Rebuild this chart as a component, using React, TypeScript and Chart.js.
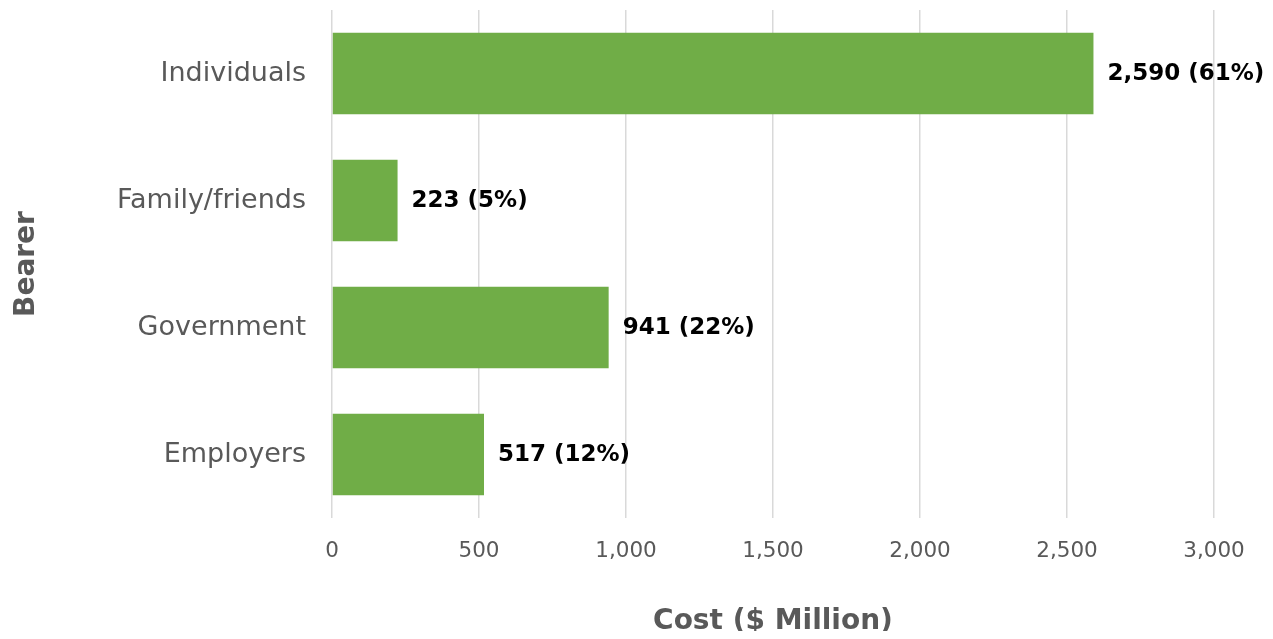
import React, { useEffect, useRef } from "react";
import { Chart, registerables } from "chart.js";

Chart.register(...registerables);

const categories = ["Individuals", "Family/friends", "Government", "Employers"];
const costs = [2590, 223, 941, 517];
const shares = ["61%", "5%", "22%", "12%"];
const xTicks = [0, 500, 1000, 1500, 2000, 2500, 3000];

const FONT = "'DejaVu Sans', Verdana, sans-serif";
const GRAY = "#595959";

const labelPlugin = {
  id: "barLabels",
  afterDatasetsDraw(chart: any) {
    const ctx = chart.ctx;
    const meta = chart.getDatasetMeta(0);
    ctx.save();
    ctx.font = `bold 23px ${FONT}`;
    ctx.fillStyle = "#000000";
    ctx.textAlign = "left";
    ctx.textBaseline = "middle";
    meta.data.forEach((el: any, i: number) => {
      const txt = `${costs[i].toLocaleString("en-US")} (${shares[i]})`;
      ctx.fillText(txt, el.x + 14, el.y + 1);
    });
    ctx.restore();
  },
};

export default function App() {
  const ref = useRef<HTMLCanvasElement | null>(null);
  useEffect(() => {
    if (!ref.current) return;
    const chart = new Chart(ref.current, {
      type: "bar",
      data: {
        labels: categories,
        datasets: [
          {
            data: costs,
            backgroundColor: "#70AD47",
            borderWidth: 0,
            categoryPercentage: 0.8,
            barPercentage: 0.8,
          },
        ],
      },
      options: {
        indexAxis: "y",
        animation: false,
        responsive: true,
        maintainAspectRatio: false,
        layout: { padding: { top: 2, right: 51, left: 0, bottom: 0 } },
        plugins: {
          legend: { display: false },
          tooltip: { enabled: false },
        },
        scales: {
          x: {
            min: 0,
            max: 3000,
            afterBuildTicks: (s: any) => {
              s.ticks = xTicks.map((v) => ({ value: v }));
            },
            afterFit: (s: any) => {
              s.height = 113;
              s.paddingLeft = 0;
              s.paddingRight = 0;
            },
            ticks: {
              color: GRAY,
              font: { family: FONT, size: 21.5 },
              padding: 21,
              callback: (v: any) => Number(v).toLocaleString("en-US"),
              maxRotation: 0,
            },
            grid: { color: "#d9d9d9", lineWidth: 1.5, drawTicks: false },
            border: { display: false },
            title: {
              display: true,
              text: "Cost ($ Million)",
              color: GRAY,
              font: { family: FONT, size: 28, weight: "bold", lineHeight: 1 },
              padding: { top: 0, bottom: -5 },
            },
          },
          y: {
            afterFit: (s: any) => {
              s.width = 324;
              s.paddingTop = 0;
              s.paddingBottom = 0;
            },
            ticks: {
              color: GRAY,
              font: { family: FONT, size: 27 },
              padding: 26,
            },
            grid: { display: false, drawTicks: false },
            border: { display: false },
            title: {
              display: true,
              text: "Bearer",
              color: GRAY,
              font: { family: FONT, size: 28, weight: "bold", lineHeight: 1.2 },
              padding: { top: 2, bottom: 0 },
            },
          },
        },
      },
      plugins: [labelPlugin],
    });
    return () => chart.destroy();
  }, []);
  return (
    <div style={{ width: 1257, height: 623, position: "relative" }}>
      <canvas ref={ref} />
    </div>
  );
}
